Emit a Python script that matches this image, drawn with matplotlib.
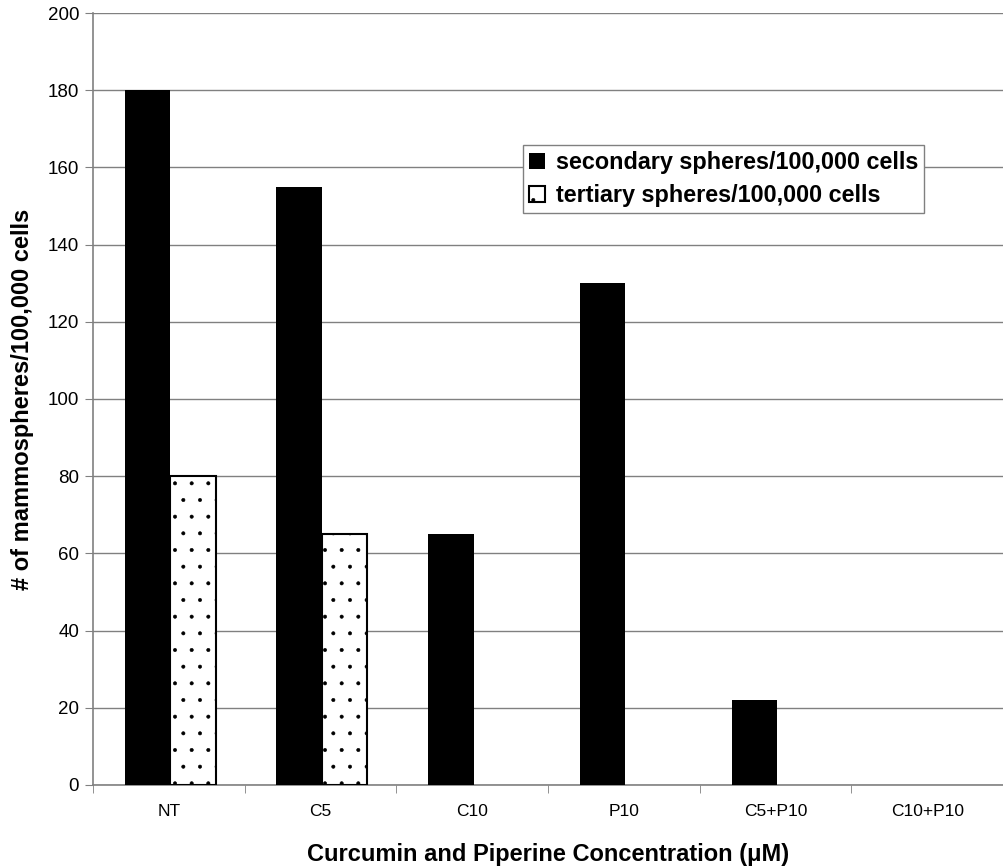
import matplotlib.pyplot as plt
import numpy as np

plt.rcParams['font.family'] = ['Liberation Sans', 'DejaVu Sans']
plt.rcParams['hatch.linewidth'] = 0.4

categorias = ['NT', 'C5', 'C10', 'P10', 'C5+P10', 'C10+P10']
secundarias = [180, 155, 65, 130, 22, 0]
terciarias = [80, 65, 0, 0, 0, 0]
rotulo_sec = 'secondary spheres/100,000 cells'
rotulo_ter = 'tertiary spheres/100,000 cells'

fig = plt.figure(figsize=(10.04, 8.67), dpi=100)
ax = fig.add_axes([0.0926, 0.0946, 0.9064, 0.8904])

x = np.arange(len(categorias))
largura = 0.30

ax.bar(x - largura / 2 + 0.01, secundarias, largura, color='black', edgecolor='black',
       linewidth=0, label=rotulo_sec, zorder=3)
# barras terciárias só onde há valor
ter = np.array(terciarias, dtype=float)
mask = ter > 0
ax.bar(x[mask] + largura / 2 + 0.01, ter[mask], largura, facecolor='white', edgecolor='black',
       hatch='.', linewidth=1.5, label=rotulo_ter, zorder=3)

ax.set_xlim(-0.5, len(categorias) - 0.5)
ax.set_ylim(0, 200)
ax.set_yticks(np.arange(0, 201, 20))
ax.yaxis.grid(True, color='#808080', linewidth=1.0, zorder=0)
ax.set_axisbelow(True)

ax.set_xticks(x)
ax.set_xticklabels(categorias, fontsize=12.5)
ax.set_xticks(np.arange(-0.5, len(categorias), 1), minor=True)
ax.tick_params(axis='x', which='major', length=0, pad=14)
ax.tick_params(axis='x', which='minor', length=6, color='#808080', direction='out')
ax.tick_params(axis='y', labelsize=13.5, length=6, color='#808080', direction='out', pad=4)

for lado in ['top', 'right']:
    ax.spines[lado].set_visible(False)
for lado in ['left', 'bottom']:
    ax.spines[lado].set_color('#808080')
    ax.spines[lado].set_linewidth(1.2)

ax.set_ylabel('# of mammospheres/100,000 cells', fontsize=17, fontweight='bold', labelpad=10)
ax.set_xlabel('Curcumin and Piperine Concentration (\u03bcM)', fontsize=17,
              fontweight='bold', labelpad=17)

leg = ax.legend(loc='upper left', bbox_to_anchor=(0.4725, 0.829),
                prop={'weight': 'bold', 'size': 16.8}, frameon=True, fancybox=False,
                handlelength=0.7, handleheight=0.7, handletextpad=0.45,
                borderpad=0.25, labelspacing=0.45, borderaxespad=0)
leg.get_frame().set_edgecolor('#808080')
leg.get_frame().set_linewidth(1.0)
leg.get_frame().set_alpha(1)

fig.savefig('out.png', dpi=100)
